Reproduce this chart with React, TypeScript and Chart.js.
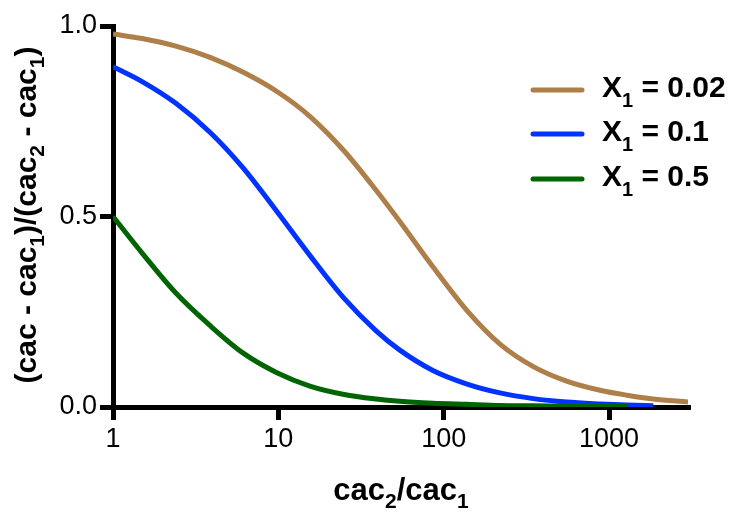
import React, { useEffect, useRef } from "react";
import { Chart, registerables } from "chart.js";

Chart.register(...registerables);

// ---- data ----
const ratioValues = [1, 1.5, 2.4, 3.9, 6.1, 9.8, 15.5, 25, 39, 54, 86, 137, 219, 348, 553, 880, 1280, 1850, 3000];
const seriesX002 = [0.979, 0.967, 0.947, 0.917, 0.879, 0.828, 0.763, 0.672, 0.569, 0.488, 0.368, 0.255, 0.165, 0.106, 0.068, 0.044, 0.031, 0.021, 0.013];
const seriesX01 = [0.893, 0.854, 0.797, 0.719, 0.628, 0.513, 0.398, 0.285, 0.2, 0.15, 0.096, 0.061, 0.037, 0.022, 0.013, 0.008, 0.005, 0.003, null];
const seriesX05 = [0.5, 0.404, 0.299, 0.212, 0.142, 0.09, 0.055, 0.033, 0.021, 0.015, 0.01, 0.007, 0.004, 0.003, 0.002, 0.001, 0.001, null, null];
const xTickValues = [1, 10, 100, 1000];
const seriesLabels = ["0.02", "0.1", "0.5"];
const seriesColors = ["#AF7F49", "#0033FF", "#006400"];

const FONT = "'Liberation Sans', Arial, Helvetica, sans-serif";

type Seg = { t: string; sub?: boolean };

function segWidth(ctx: CanvasRenderingContext2D, segs: Seg[], main: string, sub: string) {
  let w = 0;
  for (const s of segs) {
    ctx.font = s.sub ? sub : main;
    w += ctx.measureText(s.t).width;
  }
  return w;
}

function drawSegs(ctx: CanvasRenderingContext2D, segs: Seg[], x: number, y: number, main: string, sub: string, subShift: number) {
  let cx = x;
  ctx.textBaseline = "alphabetic";
  ctx.textAlign = "left";
  for (const s of segs) {
    ctx.font = s.sub ? sub : main;
    ctx.fillText(s.t, cx, s.sub ? y + subShift : y);
    cx += ctx.measureText(s.t).width;
  }
}

const yTitle: Seg[] = [
  { t: "(cac - cac" }, { t: "1", sub: true }, { t: ")/(cac" }, { t: "2", sub: true },
  { t: " - cac" }, { t: "1", sub: true }, { t: ")" },
];
const xTitle: Seg[] = [{ t: "cac" }, { t: "2", sub: true }, { t: "/cac" }, { t: "1", sub: true }];

const decorPlugin = {
  id: "decor",
  afterDraw(chart: any) {
    const ctx: CanvasRenderingContext2D = chart.ctx;
    ctx.save();
    ctx.fillStyle = "#000";
    // x title
    const xMain = `bold 31px ${FONT}`;
    const xSub = `bold 21px ${FONT}`;
    const wx = segWidth(ctx, xTitle, xMain, xSub);
    drawSegs(ctx, xTitle, 401 - wx / 2, 500, xMain, xSub, 8);
    // y title
    const yMain = `bold 30px ${FONT}`;
    const ySub = `bold 21px ${FONT}`;
    const wy = segWidth(ctx, yTitle, yMain, ySub);
    ctx.save();
    ctx.translate(36, 215);
    ctx.rotate(-Math.PI / 2);
    drawSegs(ctx, yTitle, -wy / 2, 0, yMain, ySub, 8);
    ctx.restore();
    // legend
    const tMain = `bold 30px ${FONT}`;
    const tSub = `bold 20px ${FONT}`;
    const lx0 = 533, lx1 = 582, tx = 602;
    const rows = [90, 134, 179];
    seriesLabels.forEach((lab, i) => {
      ctx.strokeStyle = seriesColors[i];
      ctx.lineWidth = 5;
      ctx.lineCap = "round";
      ctx.beginPath();
      ctx.moveTo(lx0, rows[i]);
      ctx.lineTo(lx1, rows[i]);
      ctx.stroke();
      ctx.fillStyle = "#000";
      drawSegs(ctx, [{ t: "X" }, { t: "1", sub: true }, { t: " = " + lab }], tx, rows[i] + 7, tMain, tSub, 10);
    });
    ctx.restore();
  },
};

function toPoints(vals: (number | null)[]) {
  const pts: { x: number; y: number }[] = [];
  vals.forEach((v, i) => {
    if (v !== null) pts.push({ x: ratioValues[i], y: v });
  });
  return pts;
}

export default function App() {
  const ref = useRef<HTMLCanvasElement>(null);
  useEffect(() => {
    if (!ref.current) return;
    const mk = (vals: (number | null)[], i: number, order: number) => ({
      label: "X1 = " + seriesLabels[i],
      data: toPoints(vals),
      borderColor: seriesColors[i],
      backgroundColor: seriesColors[i],
      borderWidth: 5,
      pointRadius: 0,
      fill: false,
      cubicInterpolationMode: "monotone" as const,
      order,
    });
    const chart = new Chart(ref.current, {
      type: "line",
      data: {
        datasets: [mk(seriesX002, 0, 2), mk(seriesX01, 1, 1), mk(seriesX05, 2, 0)],
      },
      options: {
        responsive: false,
        animation: false,
        devicePixelRatio: 1,
        layout: { padding: { top: 26, right: 45, left: 0, bottom: 0 } },
        plugins: { legend: { display: false }, tooltip: { enabled: false } },
        scales: {
          x: {
            type: "logarithmic",
            min: 1,
            max: 3000,
            afterBuildTicks: (s: any) => {
              s.ticks = xTickValues.map((v) => ({ value: v }));
            },
            afterFit: (s: any) => {
              s.height = 107;
            },
            ticks: {
              color: "#000",
              font: { family: FONT, size: 27 },
              padding: 3,
              maxRotation: 0,
              autoSkip: false,
              callback: (v: any) => String(v),
            },
            grid: { display: true, drawOnChartArea: false, drawTicks: true, tickLength: 13, tickWidth: 5, color: "#000", lineWidth: 5 },
            border: { display: true, width: 5, color: "#000" },
          },
          y: {
            type: "linear",
            min: 0,
            max: 1,
            afterFit: (s: any) => {
              s.width = 113;
            },
            ticks: {
              color: "#000",
              stepSize: 0.5,
              font: { family: FONT, size: 27 },
              padding: 3,
              callback: (v: any) => Number(v).toFixed(1),
            },
            grid: { display: true, drawOnChartArea: false, drawTicks: true, tickLength: 13, tickWidth: 5, color: "#000", lineWidth: 5 },
            border: { display: true, width: 5, color: "#000" },
          },
        },
      },
      plugins: [decorPlugin],
    });
    return () => chart.destroy();
  }, []);
  return (
    <div style={{ position: "absolute", left: 0, top: 0, width: 733, height: 514, background: "#fff" }}>
      <canvas ref={ref} width={733} height={514} style={{ width: 733, height: 514, display: "block" }} />
    </div>
  );
}
